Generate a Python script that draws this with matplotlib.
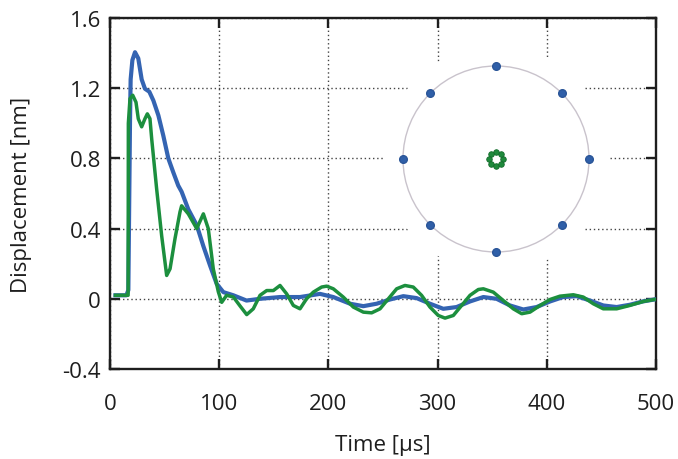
import numpy as np
import matplotlib
matplotlib.use("Agg")
import matplotlib.pyplot as plt
from matplotlib.patches import Circle

plt.rcParams['font.family'] = ['Open Sans', 'DejaVu Sans']

# ---- data ----
t_blue = [5, 10, 15, 16.8, 18.3, 18.9, 20.5, 22.9, 25.9, 29, 32, 36, 39.7, 44.3, 48.8,
          53.4, 58, 62.5, 65.6, 71.7, 79.4, 85.5, 91.6, 97.7, 103.8, 113, 125, 137.4,
          155.7, 174, 192.3, 204.5, 219.8, 232, 244.2, 256.4, 268.6, 280.8, 293, 305.2,
          317.4, 329.7, 341.9, 354, 366.3, 378.5, 390.7, 403, 415, 427.3, 439.6, 451.7,
          464, 476, 488, 498.4]
v_blue = [0.02, 0.02, 0.02, 0.05, 1.0, 1.25, 1.36, 1.405, 1.37, 1.25, 1.197, 1.18, 1.13,
          1.045, 0.93, 0.80, 0.72, 0.645, 0.61, 0.51, 0.42, 0.30, 0.19, 0.085, 0.038,
          0.02, -0.01, 0.0, 0.01, 0.01, 0.028, 0.01, -0.028, -0.042, -0.028, -0.004,
          0.015, 0.004, -0.028, -0.057, -0.047, -0.015, 0.01, 0.0, -0.038, -0.061,
          -0.047, -0.015, 0.01, 0.015, -0.01, -0.038, -0.047, -0.034, -0.015, -0.004]

t_green = [5, 10, 15, 16.6, 16.8, 18.3, 20.8, 23.8, 25.9, 29, 32, 34.2, 36.6, 38.2, 42.7,
           47.3, 51.9, 55, 59.5, 64.1, 65.6, 71.7, 79.4, 85.5, 90, 94.6, 99.2, 102.3,
           106.8, 113, 119, 125.2, 131.2, 137.4, 143.5, 149.6, 155.7, 161.8, 167.9, 174,
           180, 186.2, 193.8, 198.4, 204.5, 213.6, 222.8, 232, 239.6, 247.3, 254.9,
           262.5, 270.1, 277.7, 285.3, 293, 300.6, 306.8, 314.4, 322, 329.7, 337.3,
           341.9, 351, 360.2, 369.3, 377, 384.6, 393.8, 402.9, 412, 424.3, 433.4, 442.5,
           451.7, 464, 476, 488.4, 498.4]
v_green = [0.02, 0.02, 0.02, 0.02, 1.0, 1.14, 1.16, 1.12, 1.026, 0.98, 1.026, 1.054,
           1.026, 0.91, 0.627, 0.36, 0.133, 0.171, 0.342, 0.495, 0.53, 0.484, 0.40,
           0.484, 0.40, 0.17, 0.04, -0.02, 0.02, 0.01, -0.04, -0.09, -0.057, 0.02, 0.047,
           0.047, 0.076, 0.028, -0.038, -0.057, 0.0, 0.038, 0.067, 0.072, 0.057, 0.01,
           -0.047, -0.076, -0.08, -0.057, 0.0, 0.057, 0.076, 0.067, 0.02, -0.047, -0.095,
           -0.11, -0.095, -0.038, 0.02, 0.053, 0.057, 0.038, -0.01, -0.057, -0.085,
           -0.076, -0.038, -0.004, 0.015, 0.023, 0.01, -0.028, -0.057, -0.057, -0.038,
           -0.015, -0.004]

x_ticks = [0, 100, 200, 300, 400, 500]
y_ticks = [-0.4, 0, 0.4, 0.8, 1.2, 1.6]
y_tick_labels = ['-0.4', '0', '0.4', '0.8', '1.2', '1.6']

# inset: sensor layout
outer_angles_deg = [0, 45, 90, 135, 180, 225, 270, 315]
inner_angles_deg = [0, 45, 90, 135, 180, 225, 270, 315]
outer_radius = 1.0
inner_radius = 0.072

BLUE = '#3464b2'
GREEN = '#1c8f3e'
TXT = '#1e1e1e'

W, H = 678, 460
fig = plt.figure(figsize=(W / 100, H / 100), dpi=100)
ax = fig.add_axes([110 / W, (H - 370) / H, (656 - 110) / W, (370 - 19) / H])

ax.plot(t_blue, v_blue, color=BLUE, lw=3.0, solid_joinstyle='round', zorder=3)
ax.plot(t_green, v_green, color=GREEN, lw=2.5, solid_joinstyle='round', zorder=4)

ax.set_xlim(0, 500)
ax.set_ylim(-0.4, 1.6)
ax.set_xticks(x_ticks)
ax.set_yticks(y_ticks)
ax.set_yticklabels(y_tick_labels)
ax.grid(True, color='#444444', linestyle=(0, (1, 2.0)), linewidth=1.0)
ax.set_axisbelow(True)
for s in ax.spines.values():
    s.set_linewidth(1.7)
    s.set_color('#1e1e1e')
ax.tick_params(axis='both', direction='in', length=7, width=1.7, top=True, right=True,
               labelsize=16, colors=TXT)
ax.tick_params(axis='x', pad=17)
ax.tick_params(axis='y', pad=6.5)
ax.set_xlabel('Time [µs]', fontsize=16, color=TXT, labelpad=15)
ax.set_ylabel('Displacement [nm]', fontsize=16, color=TXT, labelpad=22)

# inset
size = 250
cx, cy = 496, 160
iax = fig.add_axes([(cx - size / 2) / W, (H - cy - size / 2) / H, size / W, size / H])
lim = (size / 2) / 93.0
iax.set_xlim(-lim, lim)
iax.set_ylim(-lim, lim)
iax.set_aspect('equal')
iax.axis('off')
iax.patch.set_alpha(0)
iax.add_patch(Circle((0, 0), 113 / 93.0, facecolor='white', edgecolor='none', zorder=0))
iax.add_patch(Circle((0, 0), outer_radius, facecolor='none', edgecolor='#c9c3cc', lw=1.0, zorder=1))
oa = np.deg2rad(outer_angles_deg)
iax.plot(outer_radius * np.cos(oa), outer_radius * np.sin(oa), 'o', color='#2f5fa8',
         ms=5.5, mec='#2a5598', zorder=3)
ia = np.deg2rad(inner_angles_deg)
iax.plot(inner_radius * np.cos(ia), inner_radius * np.sin(ia), 'o', color='#1f8a3c',
         ms=4.0, mec='#136b2b', mew=0.6, zorder=3)

fig.savefig('out.png', dpi=100)
